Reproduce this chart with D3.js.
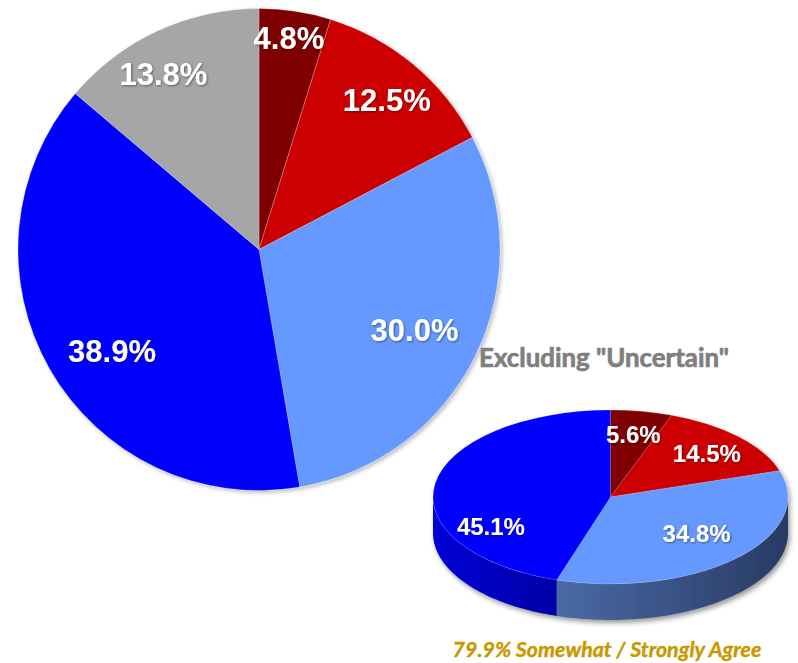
<!DOCTYPE html>
<html>
<head>
<meta charset="utf-8">
<script src="https://cdn.jsdelivr.net/npm/d3@7"></script>
<style>
  html, body { margin: 0; padding: 0; background: #ffffff; }
  svg { display: block; }
</style>
</head>
<body>
<svg id="chart" width="798" height="663"></svg>
<script>
// Survey responses, all answers
const categories = ["Strongly Disagree", "Somewhat Disagree", "Somewhat Agree", "Strongly Agree", "Uncertain"];
const allValues = [4.8, 12.5, 30.0, 38.9, 13.8];

// Same survey with "Uncertain" answers left out
const excludingCategories = ["Strongly Disagree", "Somewhat Disagree", "Somewhat Agree", "Strongly Agree"];
const excludingValues = [5.6, 14.5, 34.8, 45.1];

const titleText = 'Excluding "Uncertain"';
const footnoteText = "79.9% Somewhat / Strongly Agree";

// ---- styling and layout ----
const colors = {
  "Strongly Disagree": "#7f0000",
  "Somewhat Disagree": "#cc0000",
  "Somewhat Agree": "#6699ff",
  "Strongly Agree": "#0000ff",
  "Uncertain": "#a6a6a6"
};
// side wall shading [left, right] for the tilted pie
const sideColors = {
  "Strongly Disagree": ["#5a0000", "#400000"],
  "Somewhat Disagree": ["#990000", "#700000"],
  "Somewhat Agree": ["#4a6aa6", "#283b63"],
  "Strongly Agree": ["#0000d8", "#0000a6"]
};
// label placement: radius fraction and angular nudge (degrees)
const mainLabelLayout = [[0.888, -0.6], [0.817, 0.7], [0.726, 1.0], [0.741, -4.9], [0.83, -3.7]];
const tiltLabelLayout = [[0.735, 0], [0.743, 0.7], [0.643, -4.0], [0.756, -35.8]];

const svg = d3.select("#chart");
const defs = svg.append("defs");

const shadow = defs.append("filter").attr("id", "pieShadow")
  .attr("x", "-10%").attr("y", "-10%").attr("width", "120%").attr("height", "130%");
shadow.append("feDropShadow").attr("dx", 2).attr("dy", 2).attr("stdDeviation", 2)
  .attr("flood-color", "#000").attr("flood-opacity", 0.28);

const shadow3d = defs.append("filter").attr("id", "tiltShadow")
  .attr("x", "-10%").attr("y", "-10%").attr("width", "120%").attr("height", "130%");
shadow3d.append("feDropShadow").attr("dx", 2).attr("dy", 3).attr("stdDeviation", 2.5)
  .attr("flood-color", "#000").attr("flood-opacity", 0.4);

const textShadow = defs.append("filter").attr("id", "textShadow")
  .attr("x", "-20%").attr("y", "-30%").attr("width", "140%").attr("height", "160%");
textShadow.append("feDropShadow").attr("dx", 1).attr("dy", 1).attr("stdDeviation", 1)
  .attr("flood-color", "#000").attr("flood-opacity", 0.45);

const fmt = v => d3.format(".1f")(v) + "%";
const pie = d3.pie().sort(null).value(d => d.value);

// ---------- main pie ----------
const main = { cx: 259, cy: 249.5, r: 241 };
const mainData = pie(categories.map((c, i) => ({ key: c, value: allValues[i] })));
const arc = d3.arc().innerRadius(0).outerRadius(main.r);

const gMain = svg.append("g").attr("transform", `translate(${main.cx},${main.cy})`);
gMain.append("g").attr("filter", "url(#pieShadow)")
  .selectAll("path").data(mainData).join("path")
  .attr("d", arc)
  .attr("fill", d => colors[d.data.key])
  .attr("stroke", "#ffffff").attr("stroke-width", 0.4).attr("stroke-opacity", 0.6);

gMain.selectAll("text.lbl").data(mainData).join("text")
  .attr("class", "lbl")
  .attr("transform", (d, i) => {
    const [rf, da] = mainLabelLayout[i];
    const a = (d.startAngle + d.endAngle) / 2 + da * Math.PI / 180;
    const rr = rf * main.r;
    return `translate(${rr * Math.sin(a)},${-rr * Math.cos(a)})`;
  })
  .attr("text-anchor", "middle")
  .attr("dy", "0.36em")
  .attr("font-family", "'Liberation Sans', Arial, sans-serif")
  .attr("font-weight", "bold")
  .attr("font-size", 31)
  .attr("fill", "#ffffff")
  .attr("filter", "url(#textShadow)")
  .text(d => fmt(d.data.value));

// ---------- tilted pie ----------
const tilt = { cx: 610.5, cy: 497, rx: 177.5, ry: 87, depth: 36 };
const tiltData = pie(excludingCategories.map((c, i) => ({ key: c, value: excludingValues[i] })));
const pt = (a, dy = 0) => [tilt.cx + tilt.rx * Math.sin(a), tilt.cy - tilt.ry * Math.cos(a) + dy];

const gTilt = svg.append("g").attr("filter", "url(#tiltShadow)");

// front side walls (visible between 90° and 270°)
const lo = Math.PI / 2, hi = 3 * Math.PI / 2;
const sides = tiltData.map(d => {
  const a0 = Math.max(d.startAngle, lo), a1 = Math.min(d.endAngle, hi);
  return a0 < a1 ? { d, a0, a1 } : null;
}).filter(Boolean);

sides.forEach((s, i) => {
  const p0 = pt(s.a0), p1 = pt(s.a1);
  const gid = "side" + i;
  const grad = defs.append("linearGradient").attr("id", gid)
    .attr("gradientUnits", "userSpaceOnUse")
    .attr("x1", Math.min(p0[0], p1[0])).attr("x2", Math.max(p0[0], p1[0]))
    .attr("y1", 0).attr("y2", 0);
  const sc = sideColors[s.d.data.key];
  grad.append("stop").attr("offset", "0%").attr("stop-color", sc[0]);
  grad.append("stop").attr("offset", "100%").attr("stop-color", sc[1]);

  const steps = 60;
  const top = d3.range(steps + 1).map(k => pt(s.a0 + (s.a1 - s.a0) * k / steps));
  const bottom = d3.range(steps, -1, -1).map(k => pt(s.a0 + (s.a1 - s.a0) * k / steps, tilt.depth));
  gTilt.append("path")
    .attr("d", d3.line()(top.concat(bottom)) + "Z")
    .attr("fill", `url(#${gid})`);
});

// top faces
gTilt.selectAll("path.top").data(tiltData).join("path")
  .attr("class", "top")
  .attr("d", d => {
    const s = pt(d.startAngle), e = pt(d.endAngle);
    const large = (d.endAngle - d.startAngle) > Math.PI ? 1 : 0;
    return `M${tilt.cx},${tilt.cy}L${s[0]},${s[1]}A${tilt.rx},${tilt.ry} 0 ${large} 1 ${e[0]},${e[1]}Z`;
  })
  .attr("fill", d => colors[d.data.key])
  .attr("stroke", "#ffffff").attr("stroke-width", 0.3).attr("stroke-opacity", 0.5);

svg.append("g").selectAll("text").data(tiltData).join("text")
  .attr("transform", (d, i) => {
    const [rf, da] = tiltLabelLayout[i];
    const a = (d.startAngle + d.endAngle) / 2 + da * Math.PI / 180;
    return `translate(${tilt.cx + rf * tilt.rx * Math.sin(a)},${tilt.cy - rf * tilt.ry * Math.cos(a)})`;
  })
  .attr("text-anchor", "middle")
  .attr("dy", "0.36em")
  .attr("font-family", "'Liberation Sans', Arial, sans-serif")
  .attr("font-weight", "bold")
  .attr("font-size", 24)
  .attr("fill", "#ffffff")
  .attr("filter", "url(#textShadow)")
  .text(d => fmt(d.data.value));

// ---------- title and footnote ----------
function fitText(sel, width) {
  const w = sel.node().getComputedTextLength();
  const fs = parseFloat(sel.attr("font-size"));
  sel.attr("font-size", fs * width / w);
}

const title = svg.append("text")
  .attr("x", 604).attr("y", 367)
  .attr("text-anchor", "middle")
  .attr("font-family", "Lato, 'Open Sans', sans-serif")
  .attr("font-weight", "bold")
  .attr("font-size", 24)
  .attr("fill", "#7f7f7f")
  .attr("stroke", "#7f7f7f")
  .attr("stroke-width", 0.7)
  .attr("stroke-linejoin", "round")
  .text(titleText);
fitText(title, 250);

const foot = svg.append("text")
  .attr("x", 607).attr("y", 657)
  .attr("text-anchor", "middle")
  .attr("font-family", "Lato, 'Open Sans', sans-serif")
  .attr("font-weight", "bold")
  .attr("font-style", "italic")
  .attr("font-size", 18)
  .attr("fill", "#c99800")
  .attr("stroke", "#c99800")
  .attr("stroke-width", 0.4)
  .attr("stroke-linejoin", "round")
  .text(footnoteText);
fitText(foot, 309);
</script>
</body>
</html>
